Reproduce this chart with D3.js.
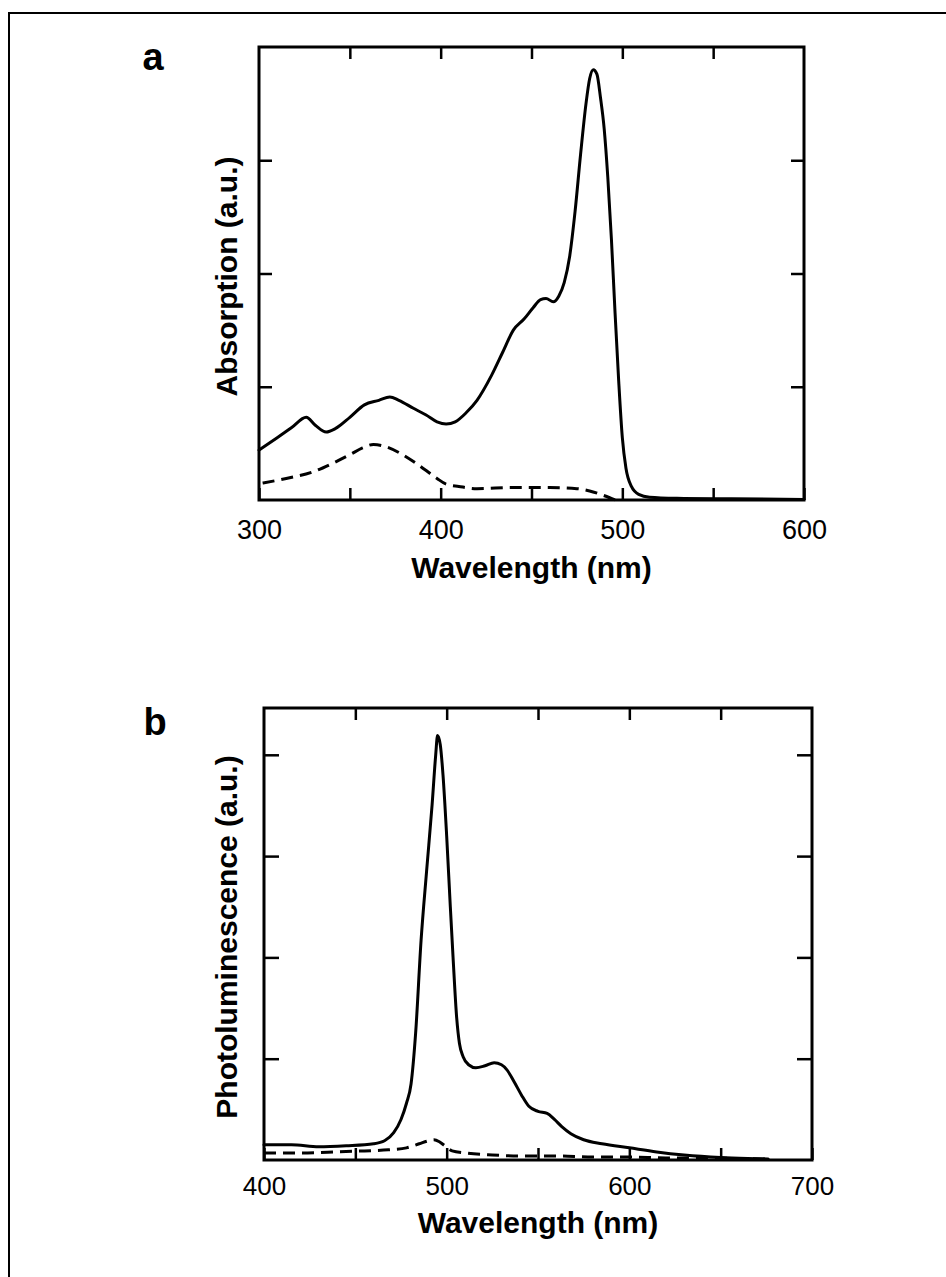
<!DOCTYPE html>
<html>
<head>
<meta charset="utf-8">
<script src="https://cdn.jsdelivr.net/npm/d3@7"></script>
<style>
  html, body { margin: 0; padding: 0; background: #fff; }
  svg { display: block; }
  text { font-family: "Liberation Sans", Arial, Helvetica, sans-serif; fill: #000; }
</style>
</head>
<body>
<script>
// ---------- DATA ----------
// Panel a: absorption (wavelength nm, a.u.)
const absSolid = [
  [300,0.44],[310,0.55],[318,0.64],[326,0.73],[331,0.66],[337,0.60],[342,0.63],[350,0.73],
  [358,0.84],[366,0.88],[372,0.91],[377,0.88],[385,0.81],[392,0.75],[398,0.69],[403,0.67],
  [408,0.69],[414,0.77],[420,0.88],[428,1.10],[434,1.30],[440,1.50],[446,1.60],[451,1.70],
  [455,1.77],[458,1.78],[462,1.75],[465,1.80],[468,1.92],[471,2.15],[474,2.55],[477,3.05],
  [480,3.50],[482,3.72],[484,3.80],[486,3.76],[488,3.55],[490,3.28],[492,2.85],[494,2.30],
  [496,1.65],[498,1.05],[500,0.55],[502,0.28],[505,0.12],[509,0.05],[515,0.025],[530,0.015],
  [560,0.01],[600,0.005]
];
const absDashed = [
  [302,0.15],[315,0.19],[330,0.25],[340,0.32],[350,0.40],[357,0.46],[363,0.49],[370,0.47],
  [378,0.41],[385,0.34],[392,0.26],[398,0.19],[403,0.14],[410,0.12],[420,0.10],[440,0.11],
  [460,0.11],[475,0.10],[482,0.08],[488,0.05],[493,0.02],[496,0.0]
];
// Panel b: photoluminescence (wavelength nm, a.u.)
const plSolid = [
  [400,0.15],[415,0.15],[430,0.13],[445,0.14],[460,0.16],[466,0.19],[471,0.27],[475,0.40],
  [478,0.56],[480.5,0.75],[483,1.25],[486,2.17],[489,2.85],[492,3.50],[494,4.00],[495,4.19],
  [496.5,4.10],[498,3.80],[500,3.20],[502,2.50],[503.5,2.00],[505.5,1.40],[507,1.15],[509,1.02],
  [512,0.94],[516,0.91],[521,0.93],[526,0.96],[530,0.94],[533,0.89],[537,0.77],[541,0.64],
  [545,0.53],[550,0.48],[555,0.46],[559,0.40],[563,0.33],[568,0.26],[575,0.20],[585,0.16],
  [600,0.12],[615,0.08],[630,0.05],[650,0.025],[665,0.015],[676,0.01]
];
const plDashed = [
  [400,0.07],[420,0.07],[440,0.08],[455,0.09],[468,0.10],[478,0.12],[485,0.16],[490,0.19],
  [493,0.20],[496,0.18],[499,0.14],[503,0.09],[510,0.07],[525,0.05],[540,0.04],[560,0.04],
  [580,0.03],[600,0.03],[620,0.02],[640,0.02],[660,0.015],[676,0.01]
];
// Ticks
const absXTicks = [300,350,400,450,500,550,600];
const absXLabels = [300,400,500,600];
const absYTicks = [1,2,3];
const plXTicks = [400,450,500,550,600,650,700];
const plXLabels = [400,500,600,700];
const plYTicks = [1,2,3,4];
const panelLabels = ["a","b"];
const xTitle = "Wavelength (nm)";
const yTitles = ["Absorption (a.u.)","Photoluminescence (a.u.)"];

// ---------- DRAW ----------
const W = 946, H = 1277;
const svg = d3.select("body").append("svg").attr("width", W).attr("height", H);

// outer frame
svg.append("path").attr("d", `M9,${H} V13 H${W}`)
  .attr("fill","none").attr("stroke","#000").attr("stroke-width",2);

function panel(cfg) {
  const {x, y, solid, dashed, xTicks, xLabels, yTicks, label, labelPos, yTitle, yTitleX, xTitleY, yTick, tickFont, tickPad} = cfg;
  const [x0, x1] = x.range();
  const [y0, y1] = y.range(); // y0 bottom, y1 top
  const g = svg.append("g");

  const line = d3.line().x(d => x(d[0])).y(d => y(d[1])).curve(d3.curveMonotoneX);
  g.append("path").datum(solid).attr("d", line)
    .attr("fill","none").attr("stroke","#000").attr("stroke-width",3)
    .attr("stroke-linejoin","round").attr("stroke-linecap","round");
  g.append("path").datum(dashed).attr("d", line)
    .attr("fill","none").attr("stroke","#000").attr("stroke-width",3)
    .attr("stroke-dasharray","12,7");

  // axes (inward ticks)
  const fmt = v => xLabels.includes(v) ? String(v) : "";
  const bottom = g.append("g").attr("transform",`translate(0,${y0})`)
    .call(d3.axisBottom(x).tickValues(xTicks).tickSize(-12).tickPadding(tickPad).tickFormat(fmt));
  const top = g.append("g").attr("transform",`translate(0,${y1})`)
    .call(d3.axisTop(x).tickValues(xTicks.slice(1,-1)).tickSize(-12).tickFormat(""));
  const left = g.append("g").attr("transform",`translate(${x0},0)`)
    .call(d3.axisLeft(y).tickValues(yTicks).tickSize(-yTick).tickFormat(""));
  const right = g.append("g").attr("transform",`translate(${x1},0)`)
    .call(d3.axisRight(y).tickValues(yTicks).tickSize(-yTick).tickFormat(""));
  [bottom, top, left, right].forEach(a => {
    a.select(".domain").remove();
    a.selectAll(".tick line").attr("stroke","#000").attr("stroke-width",2.5);
  });
  bottom.selectAll(".tick text").attr("font-size",tickFont).attr("font-family",'"Liberation Sans", Arial, sans-serif').attr("fill","#000");

  // box
  g.append("rect").attr("x",x0).attr("y",y1).attr("width",x1-x0).attr("height",y0-y1)
    .attr("fill","none").attr("stroke","#000").attr("stroke-width",3);

  // titles
  g.append("text").attr("x",(x0+x1)/2).attr("y",xTitleY).attr("text-anchor","middle")
    .attr("font-size",30).attr("font-weight","bold").text(xTitle);
  g.append("text").attr("transform",`translate(${yTitleX},${(y0+y1)/2 + 3}) rotate(-90)`)
    .attr("text-anchor","middle").attr("font-size",30).attr("font-weight","bold").text(yTitle);
  g.append("text").attr("x",labelPos[0]).attr("y",labelPos[1]).attr("text-anchor","middle")
    .attr("font-size",38).attr("font-weight","bold").text(label);
}

panel({
  x: d3.scaleLinear().domain([300,600]).range([259,804]),
  y: d3.scaleLinear().domain([0,4]).range([500,47]),
  solid: absSolid, dashed: absDashed,
  xTicks: absXTicks, xLabels: absXLabels, yTicks: absYTicks, yTick: 13,
  tickFont: 27, tickPad: 20,
  label: panelLabels[0], labelPos: [153,70],
  yTitle: yTitles[0], yTitleX: 237, xTitleY: 578
});
panel({
  x: d3.scaleLinear().domain([400,700]).range([264,812]),
  y: d3.scaleLinear().domain([0,452/101.3]).range([1160,708]),
  solid: plSolid, dashed: plDashed,
  xTicks: plXTicks, xLabels: plXLabels, yTicks: plYTicks, yTick: 15,
  tickFont: 26, tickPad: 17,
  label: panelLabels[1], labelPos: [155,735],
  yTitle: yTitles[1], yTitleX: 237, xTitleY: 1233
});
</script>
</body>
</html>
